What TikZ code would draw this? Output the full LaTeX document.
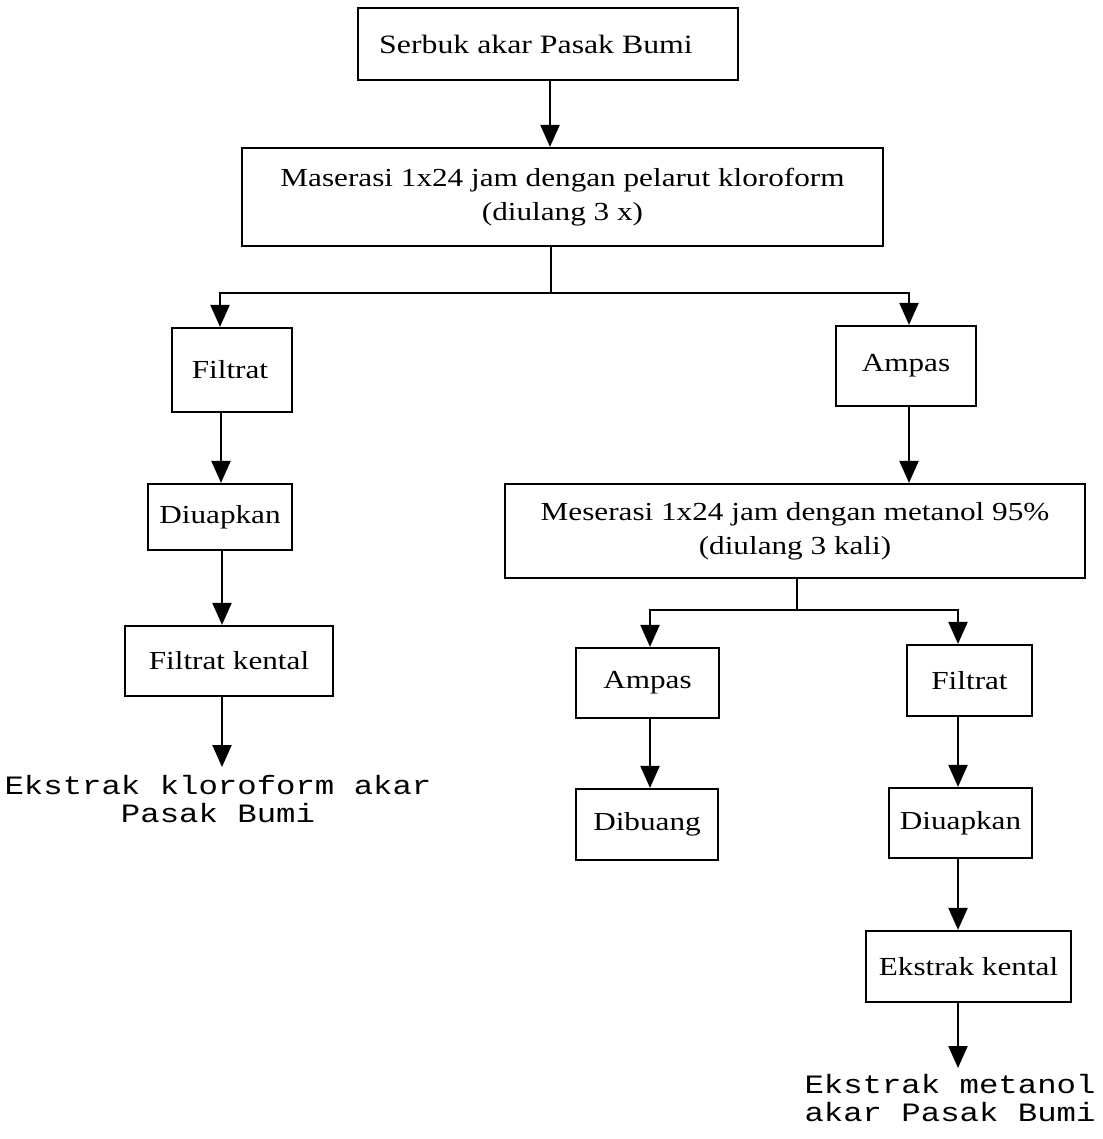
\documentclass[tikz,border=0pt]{standalone}
\usepackage{fontspec}
\setmainfont{Liberation Serif}[FakeStretch=1.2]
\newfontfamily\monof{Liberation Mono}[FakeStretch=1.22]
\usetikzlibrary{arrows.meta}
\tikzset{
  box/.style={draw=black, line width=2.2pt, inner sep=0pt, align=center,
    font=\fontsize{26}{34}\selectfont},
  arr/.style={line width=2.2pt, -{Triangle[width=19pt,length=22pt]}},
  ln/.style={line width=2.2pt},
  endtxt/.style={inner sep=0pt, align=center, font=\monof\fontsize{26.5}{28}\selectfont}
}
\begin{document}
\begin{tikzpicture}[x=1pt,y=-1pt]
\useasboundingbox[fill=white] (0,0) rectangle (1102,1139);
% boxes
\node[box, minimum width=380pt, minimum height=72pt, font=\fontsize{26.5}{34}\selectfont] (b1) at (548,44) {Serbuk akar Pasak Bumi\hspace*{24pt}};
\node[box, minimum width=641pt, minimum height=98pt] (b2) at (562.5,197) {Maserasi 1x24 jam dengan pelarut kloroform\\(diulang 3 x)};
\node[box, minimum width=120pt, minimum height=84pt] (b3) at (232,370) {Filtrat\hspace*{4pt}};
\node[box, minimum width=140pt, minimum height=80pt] (b4) at (906,366) {Ampas};
\node[box, minimum width=144pt, minimum height=66pt] (b5) at (220,517) {Diuapkan};
\node[box, minimum width=580pt, minimum height=94pt] (b6) at (795,531) {Meserasi 1x24 jam dengan metanol 95\%\\(diulang 3 kali)};
\node[box, minimum width=208pt, minimum height=70pt] (b7) at (229,661) {Filtrat kental};
\node[box, minimum width=143pt, minimum height=70pt] (b8) at (647.5,683) {Ampas};
\node[box, minimum width=125pt, minimum height=71pt] (b9) at (969.5,680.5) {Filtrat};
\node[box, minimum width=142pt, minimum height=71pt] (b10) at (647,824.5) {Dibuang};
\node[box, minimum width=143pt, minimum height=70pt] (b11) at (960.5,823) {Diuapkan};
\node[box, minimum width=205pt, minimum height=71pt] (b12) at (968.5,966.5) {Ekstrak kental};
% end texts
\node[endtxt] (e1) at (218,799) {Ekstrak kloroform akar\\Pasak Bumi};
\node[endtxt] (e2) at (950,1098) {Ekstrak metanol\\akar Pasak Bumi};
\coordinate (t1) at (222,767);
\coordinate (t2) at (958,1068);
% branch points
\coordinate (j1) at (551,293);
\coordinate (j2) at (797,610);
% connectors
\draw[arr] (b1.south -| 550,0) -- (b2.north -| 550,0);
\draw[ln] (b2.south -| j1) -- (j1);
\draw[arr] (j1) -| (b3.north -| 220,0);
\draw[arr] (j1) -| (b4.north -| 909,0);
\draw[arr] (b3.south -| 221,0) -- (b5.north -| 221,0);
\draw[arr] (b4.south -| 909,0) -- (b6.north -| 909,0);
\draw[arr] (b5.south -| 222,0) -- (b7.north -| 222,0);
\draw[arr] (b7.south -| t1) -- (t1);
\draw[ln] (b6.south -| j2) -- (j2);
\draw[arr] (j2) -| (b8.north -| 650,0);
\draw[arr] (j2) -| (b9.north -| 958,0);
\draw[arr] (b8.south -| 650,0) -- (b10.north -| 650,0);
\draw[arr] (b9.south -| 958,0) -- (b11.north -| 958,0);
\draw[arr] (b11.south -| 958,0) -- (b12.north -| 958,0);
\draw[arr] (b12.south -| t2) -- (t2);
\end{tikzpicture}
\end{document}
